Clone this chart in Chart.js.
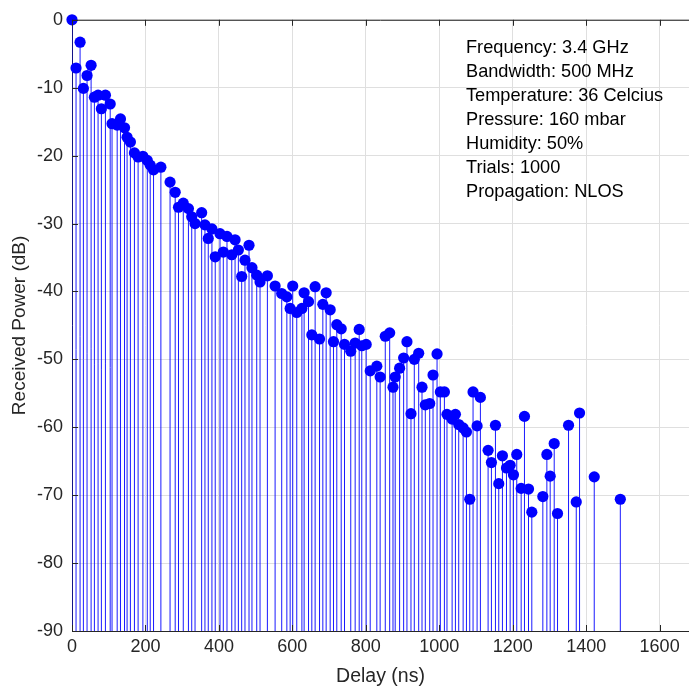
<!DOCTYPE html>
<html>
<head>
<meta charset="utf-8">
<title>Power Delay Profile</title>
<script src="https://cdn.jsdelivr.net/npm/chart.js@4.4.1/dist/chart.umd.min.js"></script>
<style>
  html, body { margin: 0; padding: 0; background: #fff; }
  #pdp { display: block; }
</style>
</head>
<body>
<canvas id="pdp" width="689" height="688"></canvas>
<script>
// delay of each tap (ns)
const delays = [
    0, 11, 22, 31, 41, 52, 61, 71, 80, 91,
    104, 109, 123, 132, 143, 150, 159, 170, 180, 193,
    205, 213, 222, 242, 267, 281, 290, 303, 317, 326,
    335, 353, 362, 371, 381, 390, 403, 412, 422, 435,
    444, 453, 462, 471, 482, 490, 503, 512, 532, 553,
    571, 585, 594, 601, 612, 626, 632, 644, 653, 662,
    674, 683, 692, 703, 712, 721, 733, 742, 759, 771,
    782, 789, 801, 812, 830, 839, 853, 865, 874, 880,
    892, 903, 912, 923, 932, 944, 953, 962, 974, 983,
    994, 1003, 1014, 1021, 1035, 1044, 1053, 1065, 1074, 1083,
    1092, 1103, 1112, 1133, 1142, 1153, 1162, 1172, 1183, 1193,
    1202, 1211, 1223, 1232, 1243, 1252, 1282, 1293, 1302, 1313,
    1322, 1352, 1373, 1382, 1422, 1493
];

// received power of each tap (dB)
const powers = [
    0, -7.1, -3.3, -10.1, -8.2, -6.7, -11.4, -11.1, -13.1, -11.1,
    -12.4, -15.3, -15.5, -14.6, -15.9, -17.3, -18.0, -19.6, -20.2, -20.1,
    -20.7, -21.4, -22.1, -21.7, -23.9, -25.4, -27.6, -27.0, -27.8, -29.0,
    -30.0, -28.4, -30.2, -32.2, -30.8, -34.9, -31.5, -34.2, -31.9, -34.6,
    -32.4, -33.9, -37.8, -35.4, -33.2, -36.5, -37.6, -38.6, -37.7, -39.2,
    -40.3, -40.8, -42.5, -39.2, -43.1, -42.5, -40.2, -41.5, -46.4, -39.3,
    -47.0, -41.9, -40.2, -42.7, -47.4, -44.9, -45.5, -47.8, -48.8, -47.6,
    -45.6, -48.0, -47.8, -51.7, -51.0, -52.6, -46.6, -46.1, -54.1, -52.6,
    -51.3, -49.8, -47.4, -58.0, -50.0, -49.1, -54.1, -56.7, -56.5, -52.3,
    -49.2, -54.8, -54.8, -58.1, -58.8, -58.1, -59.6, -60.1, -60.7, -70.6,
    -54.8, -59.8, -55.6, -63.4, -65.2, -59.7, -68.3, -64.2, -66.0, -65.6,
    -67.0, -64.0, -69.0, -58.4, -69.1, -72.5, -70.2, -64.0, -67.2, -62.4,
    -72.7, -59.7, -71.0, -57.9, -67.3, -70.6
];

const infoLines = [
    'Frequency: 3.4 GHz',
    'Bandwidth: 500 MHz',
    'Temperature: 36 Celcius',
    'Pressure: 160 mbar',
    'Humidity: 50%',
    'Trials: 1000',
    'Propagation: NLOS'
];

const xTicks = [0, 200, 400, 600, 800, 1000, 1200, 1400, 1600];
const yTicks = [0, -10, -20, -30, -40, -50, -60, -70, -80, -90];
const baseLevel = -90;

const axisColor = '#262626';
const gridColor = '#dfdfdf';
const font = 'Liberation Sans, Arial, Helvetica, sans-serif';

// stems: baseline -> value, broken by null so each is its own segment
const stemData = [];
delays.forEach((d, i) => {
    stemData.push({ x: d, y: baseLevel });
    stemData.push({ x: d, y: powers[i] });
    stemData.push({ x: d, y: null });
});
const markerData = delays.map((d, i) => ({ x: d, y: powers[i] }));

// MATLAB style box: top edge plus inward tick marks, and the text block
const boxPlugin = {
    id: 'boxPlugin',
    afterDraw(chart) {
        const ctx = chart.ctx;
        const a = chart.chartArea;
        const xs = chart.scales.x;
        const ys = chart.scales.y;
        ctx.save();
        ctx.strokeStyle = axisColor;
        ctx.lineWidth = 1;
        ctx.beginPath();
        ctx.moveTo(a.left, a.top + 0.5);
        ctx.lineTo(a.right, a.top + 0.5);
        xTicks.forEach(t => {
            const px = Math.round(xs.getPixelForValue(t)) + 0.5;
            ctx.moveTo(px, a.bottom);
            ctx.lineTo(px, a.bottom - 6);
            ctx.moveTo(px, a.top);
            ctx.lineTo(px, a.top + 6);
        });
        yTicks.forEach(t => {
            const py = Math.round(ys.getPixelForValue(t)) + 0.5;
            ctx.moveTo(a.left, py);
            ctx.lineTo(a.left + 6, py);
        });
        ctx.stroke();

        ctx.fillStyle = '#000';
        ctx.font = '18.2px ' + font;
        ctx.textBaseline = 'middle';
        ctx.textAlign = 'left';
        infoLines.forEach((line, i) => {
            ctx.fillText(line, 466, 48 + i * 24);
        });
        ctx.restore();
    }
};

new Chart(document.getElementById('pdp').getContext('2d'), {
    type: 'line',
    data: {
        datasets: [
            {
                label: 'stems',
                data: stemData,
                borderColor: 'rgba(0, 0, 255, 0.9)',
                borderWidth: 1,
                pointRadius: 0,
                spanGaps: false,
                fill: false,
                order: 2
            },
            {
                label: 'taps',
                data: markerData,
                showLine: false,
                pointRadius: 5.6,
                pointHoverRadius: 5.6,
                pointBackgroundColor: '#0000ff',
                pointBorderColor: '#0000ff',
                pointBorderWidth: 0,
                clip: false,
                order: 1
            }
        ]
    },
    options: {
        responsive: false,
        animation: false,
        devicePixelRatio: 1,
        layout: {
            autoPadding: false,
            padding: { top: 17, right: 0, left: 0, bottom: 0 }
        },
        plugins: {
            legend: { display: false },
            tooltip: { enabled: false }
        },
        scales: {
            x: {
                type: 'linear',
                min: 0,
                max: 1680,
                afterFit: s => {
                    s.height = 57;
                    s.paddingLeft = 0;
                    s.paddingRight = 0;
                },
                afterBuildTicks: s => { s.ticks = xTicks.map(v => ({ value: v })); },
                grid: { color: gridColor, drawTicks: false },
                border: { color: axisColor },
                ticks: {
                    color: '#262626',
                    font: { family: font, size: 18 },
                    padding: 5,
                    maxRotation: 0,
                    callback: v => String(v)
                },
                title: {
                    display: true,
                    text: 'Delay (ns)',
                    color: '#262626',
                    font: { family: font, size: 19.5 },
                    padding: { top: 0, bottom: 0 }
                }
            },
            y: {
                type: 'linear',
                min: -90,
                max: 0,
                afterFit: s => { s.width = 72; },
                afterBuildTicks: s => { s.ticks = yTicks.map(v => ({ value: v })); },
                grid: { color: gridColor, drawTicks: false },
                border: { color: axisColor },
                ticks: {
                    color: '#262626',
                    font: { family: font, size: 18 },
                    padding: 9,
                    callback: v => String(v)
                },
                title: {
                    display: true,
                    text: 'Received Power (dB)',
                    color: '#262626',
                    font: { family: font, size: 19 },
                    padding: { top: 8, bottom: 0 }
                }
            }
        }
    },
    plugins: [boxPlugin]
});
</script>
</body>
</html>
